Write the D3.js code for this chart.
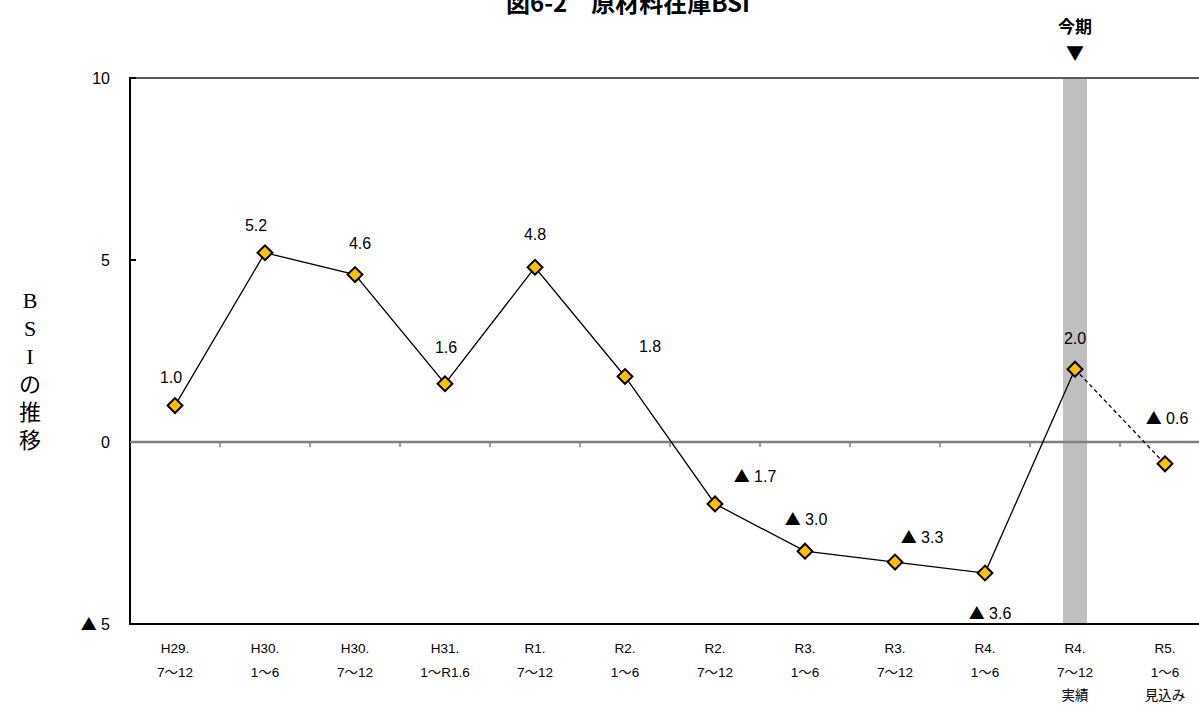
<!DOCTYPE html>
<html>
<head>
<meta charset="utf-8">
<script src="https://cdn.jsdelivr.net/npm/d3@7"></script>
<style>
  body { margin: 0; background: #fff; }
  svg { display: block; font-family: "Liberation Sans", "Noto Sans CJK JP", sans-serif; }
</style>
</head>
<body>
<svg id="chart"></svg>
<script>
// data
const periods = [
  ['H29.', '7～12'], ['H30.', '1～6'], ['H30.', '7～12'], ['H31.', '1～R1.6'],
  ['R1.', '7～12'], ['R2.', '1～6'], ['R2.', '7～12'], ['R3.', '1～6'],
  ['R3.', '7～12'], ['R4.', '1～6'], ['R4.', '7～12', '実績'], ['R5.', '1～6', '見込み']
]
const bsi = [1.0, 5.2, 4.6, 1.6, 4.8, 1.8, -1.7, -3.0, -3.3, -3.6, 2.0, -0.6]
const yTicks = [10, 5, 0, -5]
const currentIndex = 10 // 今期

// label placement (px, relative to marker)
const labelOffsets = [
  [-4, -28], [-9, -27], [5, -31], [1, -37], [0, -33], [25, -30],
  [40, -28], [1, -32], [27, -25], [5, 40], [0, -31], [2, -46]
]

const width = 1199, height = 706
const margin = { top: 78, right: 0, bottom: 82, left: 130 }
const cjk = '"Noto Sans CJK JP", sans-serif'

const svg = d3.select('#chart')
  .attr('width', width)
  .attr('height', height)

// splits a value into [mark, number] so the ▲ can use the CJK font
const parts = v => v < 0 ? ['▲', ' ' + Math.abs(v).toFixed(1)] : ['', v.toFixed(1)]
const tickParts = v => v < 0 ? ['▲', ' ' + Math.abs(v)] : ['', String(v)]

function withMark(sel, fn) {
  sel.selectAll('tspan')
    .data(d => fn(d).map((t, k) => ({ t, k })))
    .join('tspan')
    .attr('font-family', p => p.k === 0 ? cjk : null)
    .text(p => p.t)
}

const x = d3.scaleBand()
  .domain(d3.range(periods.length))
  .range([margin.left, margin.left + 90 * periods.length])
  .padding(0)

const y = d3.scaleLinear()
  .domain([-5, 10])
  .range([height - margin.bottom, margin.top])

const cx = i => x(i) + x.bandwidth() / 2

// title (cut at the top edge, as in the original)
svg.append('text')
  .attr('x', 628).attr('y', 12)
  .attr('text-anchor', 'middle')
  .attr('font-family', cjk)
  .attr('font-size', 24)
  .attr('font-weight', 'bold')
  .text('図6-2　原材料在庫BSI')

// current period band
svg.append('rect')
  .attr('x', cx(currentIndex) - 12)
  .attr('y', y(10))
  .attr('width', 24)
  .attr('height', y(-5) - y(10))
  .attr('fill', '#bfbfbf')

svg.append('text')
  .attr('x', cx(currentIndex)).attr('y', 33)
  .attr('text-anchor', 'middle')
  .attr('font-family', cjk)
  .attr('font-size', 17)
  .attr('font-weight', 'bold')
  .text('今期')
svg.append('text')
  .attr('x', cx(currentIndex)).attr('y', 60)
  .attr('text-anchor', 'middle')
  .attr('font-family', cjk)
  .attr('font-size', 18)
  .text('▼')

// top border
svg.append('line')
  .attr('x1', margin.left).attr('x2', width)
  .attr('y1', y(10)).attr('y2', y(10))
  .attr('stroke', '#595959').attr('stroke-width', 2)

// zero line with ticks
const zero = svg.append('g').attr('transform', `translate(0,${y(0)})`)
zero.append('line')
  .attr('x1', margin.left).attr('x2', width)
  .attr('stroke', '#808080').attr('stroke-width', 2.5)
zero.selectAll('.zt')
  .data(d3.range(1, periods.length))
  .join('line')
  .attr('x1', i => x(i)).attr('x2', i => x(i))
  .attr('y1', 0).attr('y2', 5)
  .attr('stroke', '#808080').attr('stroke-width', 1.5)

// bottom axis line
svg.append('line')
  .attr('x1', margin.left).attr('x2', width)
  .attr('y1', y(-5)).attr('y2', y(-5))
  .attr('stroke', '#000').attr('stroke-width', 2)

// left axis
svg.append('line')
  .attr('x1', margin.left).attr('x2', margin.left)
  .attr('y1', y(10) - 1).attr('y2', y(-5) + 1)
  .attr('stroke', '#000').attr('stroke-width', 2)
svg.selectAll('.ytick')
  .data(yTicks)
  .join('line')
  .attr('x1', margin.left).attr('x2', margin.left + 6)
  .attr('y1', d => y(d)).attr('y2', d => y(d))
  .attr('stroke', d => d === 0 ? '#808080' : '#000')
  .attr('stroke-width', 2)
svg.selectAll('.ylab')
  .data(yTicks)
  .join('text')
  .attr('x', 110)
  .attr('y', d => y(d))
  .attr('dy', '0.36em')
  .attr('text-anchor', 'end')
  .attr('font-size', 16)
  .call(withMark, tickParts)

// y axis title (vertical, stacked)
const yTitle = ['B', 'S', 'I', 'の', '推', '移']
svg.selectAll('.ytitle')
  .data(yTitle)
  .join('text')
  .attr('x', 30)
  .attr('y', (d, i) => 308 + i * 28)
  .attr('text-anchor', 'middle')
  .attr('font-family', '"Liberation Serif", "Noto Sans CJK JP", serif')
  .attr('font-size', 22)
  .text(d => d)

// x labels
const xl = svg.selectAll('.xlab')
  .data(periods)
  .join('text')
  .attr('x', (d, i) => cx(i))
  .attr('y', 653)
  .attr('text-anchor', 'middle')
  .attr('font-size', 13.5)
xl.selectAll('tspan')
  .data(d => d)
  .join('tspan')
  .attr('x', function () { return d3.select(this.parentNode).attr('x') })
  .attr('dy', (d, i) => i === 0 ? 0 : 23.5)
  .attr('font-family', (d, i) => i === 2 ? cjk : null)
  .text(d => d)

// line
const line = d3.line().x((d, i) => cx(i)).y(d => y(d))
svg.append('path')
  .attr('d', line(bsi.slice(0, currentIndex + 1)))
  .attr('fill', 'none')
  .attr('stroke', '#000')
  .attr('stroke-width', 1.3)
svg.append('path')
  .attr('d', d3.line().x(i => cx(i)).y(i => y(bsi[i]))([currentIndex, currentIndex + 1]))
  .attr('fill', 'none')
  .attr('stroke', '#000')
  .attr('stroke-width', 1.3)
  .attr('stroke-dasharray', '4,3')

// markers
svg.selectAll('.marker')
  .data(bsi)
  .join('path')
  .attr('d', d3.symbol(d3.symbolSquare, 110)())
  .attr('transform', (d, i) => `translate(${cx(i)},${y(d)}) rotate(45)`)
  .attr('fill', '#ffc000')
  .attr('stroke', '#000')
  .attr('stroke-width', 2)

// data labels
svg.selectAll('.dlab')
  .data(bsi)
  .join('text')
  .attr('x', (d, i) => cx(i) + labelOffsets[i][0])
  .attr('y', (d, i) => y(d) + labelOffsets[i][1])
  .attr('dy', '0.36em')
  .attr('text-anchor', 'middle')
  .attr('font-size', 16)
  .call(withMark, parts)
</script>
</body>
</html>
